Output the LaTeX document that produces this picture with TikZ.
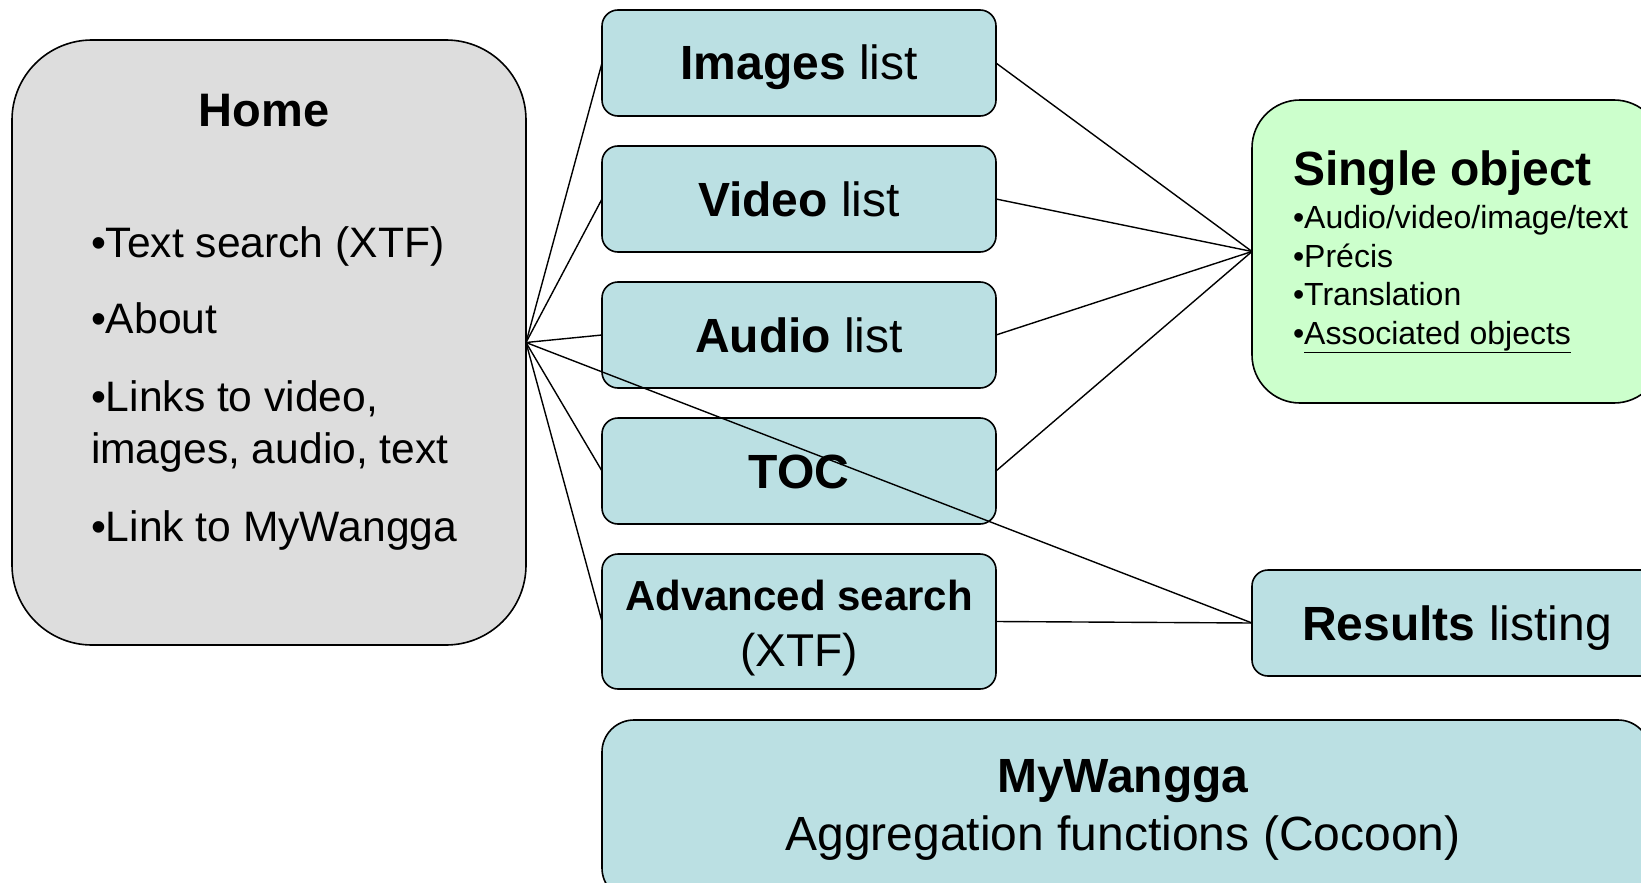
\documentclass[tikz,border=0pt]{standalone}
\usepackage{fontspec}
\setmainfont{Liberation Sans}
\definecolor{boxblue}{RGB}{187,224,227}
\definecolor{boxgrey}{RGB}{221,221,221}
\definecolor{boxgreen}{RGB}{204,255,204}
\newcommand{\fs}[1]{\fontsize{#1}{#1}\selectfont}
\begin{document}
\begin{tikzpicture}[x=1pt,y=-1pt,
  box/.style={draw=black,line width=1.6pt,inner sep=0pt,outer sep=0pt},
  bluebox/.style={box,fill=boxblue,rounded corners=16pt,minimum width=394pt,minimum height=106pt},
  conn/.style={draw=black,line width=1.4pt},
  txt/.style={inner sep=0pt,outer sep=0pt,anchor=base},
  ltxt/.style={inner sep=0pt,outer sep=0pt,anchor=base west}]
\useasboundingbox (0,0) rectangle (1641,883);
\clip (0,0) rectangle (1641,883);
\fill[white] (0,0) rectangle (1641,883);

% boxes
\node[box,fill=boxgrey,rounded corners=80pt,minimum width=514pt,minimum height=605pt] (home) at (269,342.5) {};
\node[bluebox] (images) at (799,63) {};
\node[bluebox] (video) at (799,199) {};
\node[bluebox] (audio) at (799,335) {};
\node[bluebox] (toc) at (799,471) {};
\node[bluebox,minimum height=135pt] (adv) at (799,621.5) {};
\node[box,fill=boxgreen,rounded corners=48pt,minimum width=410pt,minimum height=303pt] (single) at (1457,251.5) {};
\node[bluebox,minimum width=410pt] (results) at (1457,623) {};
\node[box,fill=boxblue,rounded corners=32pt,minimum width=1048pt,minimum height=180pt] (myw) at (1126,810) {};

% connectors
\foreach \t in {images,video,audio,toc,adv,results}
  \draw[conn] (home.east) -- (\t.west);
\foreach \t in {images,video,audio,toc}
  \draw[conn] (\t.east) -- (single.west);
\draw[conn] (adv.east) -- (results.west);

% texts: Home
\node[txt] (hometitle) at (264,126.5) {\fs{47}\bfseries Home};
\node[ltxt] (h1) at (91,257) {\fs{42.6}•Text search (XTF)};
\node[ltxt] (h2) at (91,333) {\fs{42.6}•About};
\node[ltxt] (h3) at (91,411) {\fs{42.6}•Links to video,};
\node[ltxt] (h4) at (91,463.5) {\fs{42.6}images, audio, text};
\node[ltxt] (h5) at (91,541) {\fs{42.6}•Link to MyWangga};

% middle column
\node[txt] (timages) at (799,80) {\fs{48}\textbf{Images} list};
\node[txt] (tvideo) at (799,216) {\fs{48}\textbf{Video} list};
\node[txt] (taudio) at (799,352) {\fs{48}\textbf{Audio} list};
\node[txt] (ttoc) at (799,488) {\fs{48}\textbf{TOC}};
\node[txt] (tadv1) at (799,610) {\fs{42}\textbf{Advanced search}};
\node[txt] (tadv2) at (799,666.5) {\fs{46}(XTF)};

% single object
\node[ltxt] (stitle) at (1293,185) {\fs{48}\bfseries Single object};
\node[ltxt] (s1) at (1293,228.5) {\fs{32}•Audio/video/image/text};
\node[ltxt] (s2) at (1293,267) {\fs{32}•Précis};
\node[ltxt] (s3) at (1293,305.5) {\fs{32}•Translation};
\node[ltxt] (s4) at (1293,344) {\fs{32}•\underline{Associated objects}};

% results
\node[txt] (tresults) at (1457,640) {\fs{48}\textbf{Results} listing};

% MyWangga
\node[txt] (tmyw1) at (1123,792.5) {\fs{48}\textbf{MyWangga}};
\node[txt] (tmyw2) at (1123,850) {\fs{48}Aggregation functions (Cocoon)};
\end{tikzpicture}
\end{document}
